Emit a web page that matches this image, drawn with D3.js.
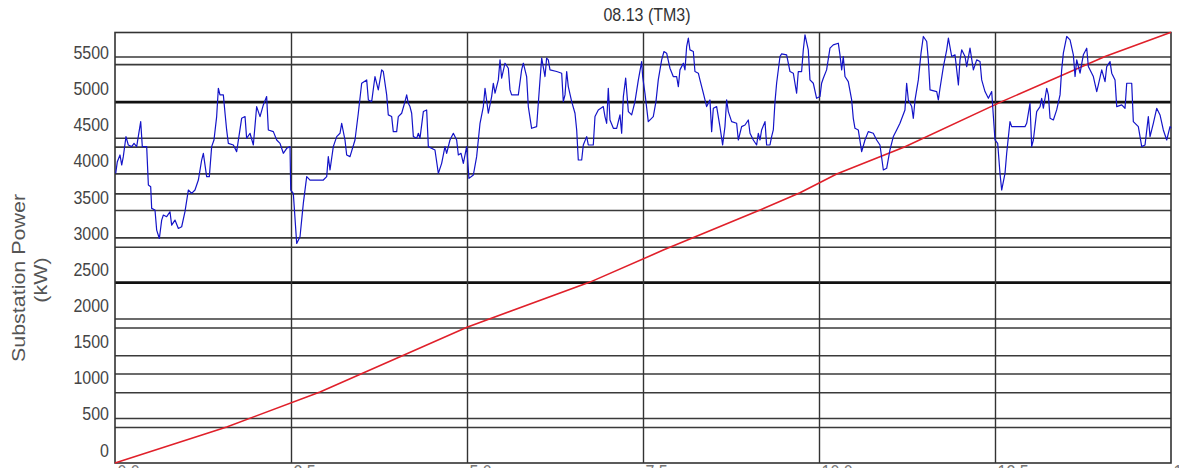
<!DOCTYPE html>
<html>
<head>
<meta charset="utf-8">
<script src="https://cdn.jsdelivr.net/npm/d3@7"></script>
<style>
  html, body { margin: 0; padding: 0; background: #fff; }
  svg { display: block; }
  text { font-family: "Liberation Sans", Arial, sans-serif; }
</style>
</head>
<body>
<svg id="chart" width="1179" height="468"></svg>
<script>
// ---------- DATA ----------
const chartTitle = "08.13 (TM3)";
const yAxisTitle = ["Substation Power", "(kW)"];
const yTickValues = [0, 500, 1000, 1500, 2000, 2500, 3000, 3500, 4000, 4500, 5000, 5500];
const xTickValues = [0, 2.5, 5, 7.5, 10, 12.5, 15];
const xTickLabels = ["0.0", "2.5", "5.0", "7.5", "10.0", "12.5", "15.0"];
const thinGridValues = [5447, 5342, 4325, 4201, 3832, 3555, 3324, 2946, 2816, 1824, 1699, 1316, 1062, 803, 447, 323];
const boldGridValues = [4824, 2327];

// substation load (hour, kW)
const loadPoints = [
[0.01,3832],[0.033,3993],[0.071,4086],[0.095,3947],[0.118,4063],[0.156,4340],[0.189,4224],[0.237,4201],[0.270,4247],[0.308,4201],
[0.346,4432],[0.365,4547],[0.388,4201],[0.450,4201],[0.474,3670],[0.507,3647],[0.521,3347],[0.568,3324],[0.592,3047],[0.630,2931],
[0.663,3185],[0.687,3255],[0.734,3232],[0.781,3301],[0.805,3116],[0.852,3185],[0.900,3070],[0.947,3093],[0.994,3301],[1.042,3601],
[1.089,3555],[1.136,3601],[1.184,3739],[1.231,4016],[1.255,4109],[1.302,3786],[1.340,3786],[1.373,4201],[1.406,4293],[1.444,4617],
[1.468,5009],[1.491,4917],[1.539,4917],[1.563,4663],[1.586,4432],[1.610,4247],[1.681,4224],[1.728,4132],[1.799,4593],[1.847,4617],
[1.870,4316],[1.918,4386],[1.965,4224],[2.012,4755],[2.060,4617],[2.107,4778],[2.154,4894],[2.178,4432],[2.249,4409],[2.297,4293],
[2.344,4247],[2.391,4109],[2.439,4178],[2.486,4201],[2.496,3601],[2.533,3555],[2.581,2862],[2.628,2954],[2.675,3416],[2.723,3786],
[2.770,3739],[2.959,3739],[3.007,3786],[3.030,4063],[3.054,3878],[3.101,4201],[3.149,4340],[3.196,4386],[3.220,4524],[3.267,4293],
[3.291,4086],[3.338,4063],[3.409,4293],[3.456,4663],[3.504,5078],[3.575,5124],[3.599,4847],[3.646,4824],[3.693,5171],[3.740,4986],
[3.788,5263],[3.811,5240],[3.859,4917],[3.882,4640],[3.930,4617],[3.953,4409],[4.001,4409],[4.024,4617],[4.072,4663],[4.119,4824],
[4.143,4917],[4.166,4801],[4.190,4755],[4.214,4663],[4.238,4340],[4.285,4316],[4.309,4386],[4.332,4316],[4.380,4686],[4.427,4709],
[4.451,4201],[4.545,4155],[4.593,3832],[4.640,3970],[4.687,4201],[4.711,4109],[4.758,4293],[4.806,4386],[4.853,4293],[4.877,4086],
[4.915,4109],[4.948,3970],[4.995,4201],[5.028,3762],[5.090,3809],[5.137,4063],[5.185,4524],[5.232,4755],[5.256,5009],[5.303,4663],
[5.350,4894],[5.374,5078],[5.398,4940],[5.445,5124],[5.469,5401],[5.492,5148],[5.540,5355],[5.587,5286],[5.611,4986],[5.634,4917],
[5.729,4917],[5.776,5263],[5.800,5355],[5.847,5171],[5.871,4755],[5.918,4455],[5.989,4478],[6.013,4801],[6.037,5124],[6.061,5425],
[6.108,5171],[6.131,5425],[6.155,5401],[6.179,5263],[6.274,5240],[6.345,5217],[6.368,4824],[6.392,4917],[6.416,5240],[6.439,5032],
[6.487,4824],[6.534,4663],[6.558,4432],[6.581,4016],[6.629,4016],[6.652,4224],[6.700,4340],[6.723,4224],[6.794,4224],[6.818,4617],
[6.865,4709],[6.936,4755],[6.960,4617],[6.984,4524],[7.007,5009],[7.031,4570],[7.079,4455],[7.126,4455],[7.173,4640],[7.197,4386],
[7.221,4894],[7.254,5148],[7.292,4686],[7.339,4640],[7.386,4824],[7.434,5124],[7.481,5378],[7.495,5171],[7.528,4940],[7.575,4547],
[7.646,4617],[7.684,4824],[7.717,5124],[7.765,5401],[7.798,5517],[7.836,5494],[7.883,5286],[7.930,5171],[7.978,5171],[8.002,5032],
[8.025,5263],[8.073,5355],[8.096,5263],[8.120,5586],[8.144,5702],[8.167,5540],[8.215,5517],[8.238,5240],[8.286,5217],[8.309,5124],
[8.357,4940],[8.404,4755],[8.451,4847],[8.475,4409],[8.499,4732],[8.546,4755],[8.593,4478],[8.631,4224],[8.664,4478],[8.688,4847],
[8.712,4686],[8.759,4547],[8.830,4524],[8.854,4293],[8.901,4478],[8.949,4501],[8.996,4570],[9.020,4386],[9.067,4293],[9.114,4224],
[9.138,4386],[9.162,4293],[9.185,4432],[9.233,4547],[9.256,4224],[9.304,4224],[9.327,4340],[9.351,4432],[9.375,4824],[9.398,5078],
[9.446,5448],[9.469,5485],[9.540,5471],[9.564,5355],[9.588,5240],[9.635,5217],[9.682,4940],[9.706,5240],[9.753,5240],[9.777,5540],
[9.801,5748],[9.848,5540],[9.872,5124],[9.919,5078],[9.966,4870],[10.014,4894],[10.037,5078],[10.061,5148],[10.108,5263],[10.156,5563],
[10.203,5609],[10.274,5632],[10.298,5471],[10.322,5263],[10.345,5448],[10.369,5171],[10.416,5101],[10.464,4847],[10.487,4593],[10.511,4455],
[10.558,4432],[10.606,4132],[10.653,4293],[10.700,4409],[10.771,4386],[10.819,4293],[10.866,4224],[10.914,3878],[10.961,3901],[11.008,4155],
[11.056,4340],[11.103,4432],[11.150,4524],[11.221,4709],[11.245,5078],[11.269,4847],[11.317,4755],[11.340,4593],[11.364,4847],[11.411,5124],
[11.449,5494],[11.482,5725],[11.530,5655],[11.553,5401],[11.577,4986],[11.672,4963],[11.695,4847],[11.719,5009],[11.767,5309],[11.814,5540],
[11.838,5702],[11.885,5448],[11.932,5471],[11.980,5055],[12.003,5401],[12.027,5540],[12.074,5448],[12.098,5309],[12.145,5563],[12.193,5263],
[12.240,5401],[12.287,5378],[12.311,5124],[12.358,4963],[12.406,4870],[12.453,4963],[12.477,4617],[12.500,4293],[12.538,4247],[12.571,3832],
[12.595,3601],[12.642,3832],[12.666,4109],[12.713,4547],[12.737,4478],[12.926,4478],[12.950,4524],[12.997,4801],[13.021,4201],[13.045,4293],
[13.092,4686],[13.140,4755],[13.163,4870],[13.187,4732],[13.234,5009],[13.258,4917],[13.282,4593],[13.329,4570],[13.376,4709],[13.424,4917],
[13.447,5263],[13.471,5494],[13.519,5725],[13.566,5678],[13.613,5471],[13.637,5171],[13.661,5401],[13.708,5217],[13.755,5471],[13.803,5563],
[13.826,5309],[13.874,5217],[13.897,5171],[13.945,4963],[13.968,5055],[14.016,5263],[14.063,5101],[14.087,5309],[14.134,5378],[14.158,5217],
[14.205,5124],[14.229,4755],[14.300,4778],[14.347,4732],[14.371,5078],[14.442,5078],[14.465,4547],[14.536,4478],[14.584,4201],[14.631,4224],
[14.678,4617],[14.702,4340],[14.749,4524],[14.797,4732],[14.844,4640],[14.891,4432],[14.939,4293],[14.986,4478],[15.0,4455]
];

// cumulative trend (hour, kW-scale)
const trendPoints = [
[0,-175],[1.587,323],[2.912,807],[5.0,1704],[6.747,2327],[7.788,2770],[9.162,3324],[9.730,3564],
[10.251,3823],[11.222,4201],[12.595,4824],[14.063,5447],[14.962,5771],[15,5785]
];

// ---------- LAYOUT ----------
const svg = d3.select("#chart");
const plotLeft = 115, plotRight = 1171, plotTop = 32.5, plotBottom = 463;
const x = d3.scaleLinear().domain([0, 15]).range([plotLeft, plotRight]);
const y = d3.scaleLinear().domain([-175, 5780]).range([plotBottom, plotTop]);
const textColor = "#454545";
const vStretch = 1.13;
const plotW = plotRight - plotLeft, plotH = plotBottom - plotTop;

// plot background
svg.append("rect").attr("x", plotLeft).attr("y", plotTop)
  .attr("width", plotW).attr("height", plotH).attr("fill", "#fff");

// thin horizontal grid
svg.append("g").attr("transform", `translate(${plotLeft},0)`)
  .call(d3.axisLeft(y).tickValues(thinGridValues).tickSize(-plotW).tickFormat(""))
  .call(g => g.select(".domain").remove())
  .call(g => g.selectAll("line").attr("stroke", "#3a3a3a").attr("stroke-width", 1.6));

// bold horizontal grid
svg.append("g").attr("transform", `translate(${plotLeft},0)`)
  .call(d3.axisLeft(y).tickValues(boldGridValues).tickSize(-plotW).tickFormat(""))
  .call(g => g.select(".domain").remove())
  .call(g => g.selectAll("line").attr("stroke", "#111").attr("stroke-width", 2.8));

// vertical grid
svg.append("g").attr("transform", `translate(0,${plotBottom})`)
  .call(d3.axisBottom(x).tickValues(xTickValues.slice(1, -1)).tickSize(-plotH).tickFormat(""))
  .call(g => g.select(".domain").remove())
  .call(g => g.selectAll("line").attr("stroke", "#333").attr("stroke-width", 1.4));

// frame
svg.append("rect").attr("x", plotLeft).attr("y", plotTop)
  .attr("width", plotW).attr("height", plotH)
  .attr("fill", "none").attr("stroke", "#333").attr("stroke-width", 1.6);

// y tick labels
svg.append("g").attr("transform", `translate(${plotLeft},0)`)
  .call(d3.axisLeft(y).tickValues(yTickValues).tickSize(0).tickPadding(6).tickFormat(d3.format("d")))
  .call(g => g.select(".domain").remove())
  .call(g => g.selectAll("text")
    .attr("font-size", 16).attr("fill", textColor)
    .attr("font-family", "'Liberation Sans', Arial, sans-serif")
    .attr("transform", `scale(1,${vStretch})`));

// x tick labels (cut off by the window bottom, as in the reference)
svg.append("g").attr("transform", `translate(0,${plotBottom})`)
  .call(d3.axisBottom(x).tickValues(xTickValues).tickSize(0).tickPadding(0)
    .tickFormat((d, i) => xTickLabels[i]))
  .call(g => g.select(".domain").remove())
  .call(g => g.selectAll("text")
    .attr("font-size", 16).attr("fill", "#777")
    .attr("font-family", "'Liberation Sans', Arial, sans-serif")
    .attr("text-anchor", "start").attr("x", 2).attr("dy", 0).attr("y", 13)
    .attr("transform", `scale(1,${vStretch})`));

// lines
const line = d3.line().x(d => x(d[0])).y(d => y(d[1]));
svg.append("path").datum(trendPoints).attr("d", line)
  .attr("fill", "none").attr("stroke", "#e0202a").attr("stroke-width", 1.6);
svg.append("path").datum(loadPoints).attr("d", line)
  .attr("fill", "none").attr("stroke", "#1414c8").attr("stroke-width", 1.2)
  .attr("stroke-linejoin", "round");

// title
svg.append("text").attr("transform", `translate(647,21) scale(1,${vStretch})`)
  .attr("text-anchor", "middle").attr("font-size", 16).attr("fill", "#333")
  .text(chartTitle);

// y axis title
svg.append("text").attr("transform", `translate(25,278) rotate(-90) scale(${vStretch},1)`)
  .attr("text-anchor", "middle").attr("font-size", 19).attr("fill", "#555")
  .text(yAxisTitle[0]);
svg.append("text").attr("transform", `translate(47,280) rotate(-90) scale(${vStretch},1)`)
  .attr("text-anchor", "middle").attr("font-size", 19).attr("fill", "#555")
  .text(yAxisTitle[1]);
</script>
</body>
</html>
